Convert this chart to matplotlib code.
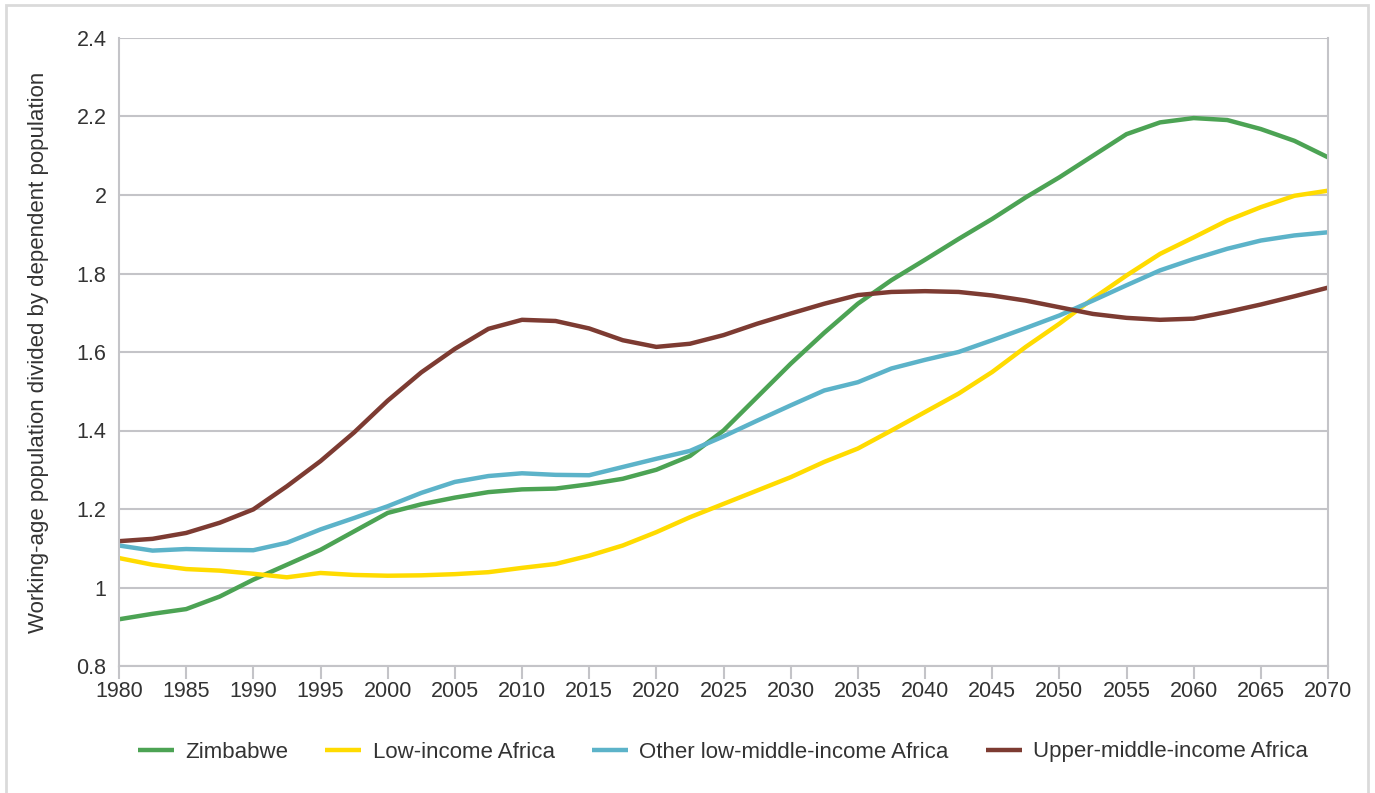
import matplotlib.pyplot as plt
from matplotlib.patches import Rectangle

plt.rcParams['font.family'] = ['Liberation Sans', 'DejaVu Sans']

# values every 2.5 years
years = [1980 + 2.5 * i for i in range(37)]

zimbabwe = [0.919, 0.933, 0.945, 0.977, 1.020, 1.058, 1.096, 1.143, 1.190, 1.212,
            1.229, 1.243, 1.250, 1.252, 1.263, 1.277, 1.300, 1.335, 1.400, 1.485,
            1.570, 1.649, 1.723, 1.783, 1.835, 1.888, 1.939, 1.994, 2.045, 2.100,
            2.155, 2.185, 2.196, 2.191, 2.168, 2.138, 2.096]
low_income = [1.075, 1.058, 1.047, 1.043, 1.035, 1.026, 1.037, 1.032, 1.030, 1.031,
              1.034, 1.039, 1.050, 1.060, 1.081, 1.107, 1.141, 1.179, 1.213, 1.247,
              1.281, 1.320, 1.354, 1.400, 1.447, 1.494, 1.549, 1.613, 1.672, 1.736,
              1.795, 1.850, 1.892, 1.935, 1.969, 1.998, 2.011]
other_lmi = [1.107, 1.094, 1.098, 1.096, 1.095, 1.114, 1.148, 1.177, 1.207, 1.241,
             1.269, 1.284, 1.291, 1.287, 1.286, 1.307, 1.328, 1.348, 1.385, 1.425,
             1.464, 1.502, 1.523, 1.558, 1.580, 1.600, 1.630, 1.661, 1.693, 1.731,
             1.770, 1.808, 1.837, 1.863, 1.884, 1.897, 1.905]
upper_mi = [1.118, 1.124, 1.139, 1.165, 1.199, 1.258, 1.322, 1.395, 1.476, 1.548,
            1.608, 1.659, 1.682, 1.679, 1.660, 1.630, 1.613, 1.621, 1.643, 1.672,
            1.698, 1.723, 1.745, 1.753, 1.755, 1.753, 1.744, 1.731, 1.714, 1.697,
            1.687, 1.682, 1.685, 1.702, 1.721, 1.742, 1.764]

series = [
    ('Zimbabwe', zimbabwe, '#4ca354'),
    ('Low-income Africa', low_income, '#ffdb00'),
    ('Other low-middle-income Africa', other_lmi, '#5cb3c9'),
    ('Upper-middle-income Africa', upper_mi, '#7d3b32'),
]

fs = 15.5
txt = '#333333'
grid = '#c4c4c8'

fig = plt.figure(figsize=(13.75, 7.93), dpi=100)
ax = fig.add_axes([119 / 1375, 1 - 666 / 793, (1328 - 119) / 1375, (666 - 38) / 793])

for name, vals, col in series:
    ax.plot(years, vals, color=col, lw=3.2, label=name, solid_capstyle='butt', solid_joinstyle='round')

ax.set_xlim(1980, 2070)
ax.set_ylim(0.8, 2.4)
ax.set_xticks(range(1980, 2071, 5))
ax.set_yticks([0.8, 1.0, 1.2, 1.4, 1.6, 1.8, 2.0, 2.2, 2.4])
ax.set_yticklabels(['0.8', '1', '1.2', '1.4', '1.6', '1.8', '2', '2.2', '2.4'])
ax.grid(axis='y', color=grid, lw=1.5)
ax.set_axisbelow(True)
for s in ['left', 'right', 'bottom']:
    ax.spines[s].set_color(grid)
    ax.spines[s].set_linewidth(1.5)
ax.spines['top'].set_visible(False)
ax.tick_params(axis='y', length=0, pad=9, labelsize=fs, labelcolor=txt)
ax.tick_params(axis='x', length=9, width=1.5, color=grid, pad=2, labelsize=fs, labelcolor=txt)
ax.set_ylabel('Working-age population divided by dependent population', fontsize=16, color=txt)
ax.yaxis.set_label_coords(-0.058, 0.5)

fig.legend(loc='center', bbox_to_anchor=(723 / 1375, 1 - 752 / 793), ncol=4, frameon=False,
           fontsize=16, handlelength=1.62, columnspacing=1.67, handletextpad=0.51, labelcolor=txt)

fig.add_artist(Rectangle((6 / 1375, -0.02), (1368 - 6) / 1375, 1.02 - 5 / 793,
                         transform=fig.transFigure, fill=False, edgecolor='#dadada', lw=2))

fig.savefig('out.png', dpi=100)
